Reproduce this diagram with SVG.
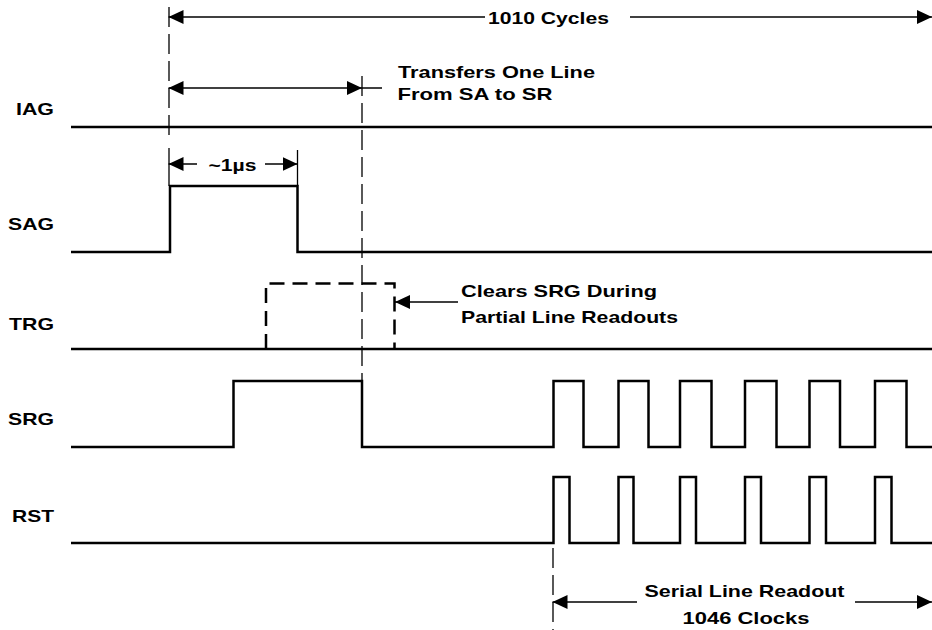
<svg xmlns="http://www.w3.org/2000/svg" width="932" height="630" viewBox="0 0 932 630">
<style>
.sig{fill:none;stroke:#000;stroke-width:2.5;stroke-linejoin:miter;stroke-linecap:butt}
.dpulse{fill:none;stroke:#000;stroke-width:2.5;stroke-dasharray:15 8}
.guide{fill:none;stroke:#000;stroke-width:1.3;stroke-dasharray:20 7}
.ext{fill:none;stroke:#000;stroke-width:1.3}
.arr{fill:none;stroke:#000;stroke-width:1.5}
text{font-family:"Liberation Sans",Arial,Helvetica,sans-serif;font-weight:bold;font-size:17px;fill:#000}
.lbl{text-anchor:end}
.mid{text-anchor:middle}
</style>
<defs>
<marker id="ah" viewBox="0 0 15 14" refX="15" refY="7" markerWidth="15" markerHeight="14" markerUnits="userSpaceOnUse" orient="auto-start-reverse">
<path d="M0,0 L15,7 L0,14 z" fill="#000"/>
</marker>
</defs>

<g id="IAG">
<text class="lbl" x="54" y="114.5" textLength="38" lengthAdjust="spacingAndGlyphs">IAG</text>
<path class="sig" d="M71,127 H932"/>
</g>

<g id="SAG">
<text class="lbl" x="54" y="229.5" textLength="46" lengthAdjust="spacingAndGlyphs">SAG</text>
<path class="sig" d="M71,252 H170 V186 H297.5 V252 H932"/>
</g>

<g id="TRG">
<text class="lbl" x="54" y="330" textLength="45" lengthAdjust="spacingAndGlyphs">TRG</text>
<path class="sig" d="M71,349 H932"/>
<path class="dpulse" d="M266,349 V283.5 H394.5 V349"/>
</g>

<g id="SRG">
<text class="lbl" x="54" y="425" textLength="46" lengthAdjust="spacingAndGlyphs">SRG</text>
<path class="sig" d="M71,447 H233.5 V381 H362 V447 H553.5 V381 H583.5 V447 H618.5 V381 H648.5 V447 H680 V381 H711.5 V447 H745 V381 H776.5 V447 H809.5 V381 H840 V447 H875 V381 H906.5 V447 H932"/>
</g>

<g id="RST">
<text class="lbl" x="54" y="521.5" textLength="42" lengthAdjust="spacingAndGlyphs">RST</text>
<path class="sig" d="M71,543 H553.5 V477 H569.5 V543 H618.5 V477 H633.5 V543 H680 V477 H696 V543 H745 V477 H761 V543 H809.5 V477 H826 V543 H875 V477 H891.5 V543 H932"/>
</g>

<g id="annotations">
<text class="mid" x="548.5" y="24" textLength="121" lengthAdjust="spacingAndGlyphs">1010 Cycles</text>
<text x="398" y="77.5" textLength="197" lengthAdjust="spacingAndGlyphs">Transfers One Line</text>
<text x="397.5" y="99.5" textLength="155" lengthAdjust="spacingAndGlyphs">From SA to SR</text>
<text class="mid" x="232.5" y="171" textLength="48" lengthAdjust="spacingAndGlyphs">~1µs</text>
<text x="461" y="297" textLength="196" lengthAdjust="spacingAndGlyphs">Clears SRG During</text>
<text x="461" y="323" textLength="217" lengthAdjust="spacingAndGlyphs">Partial Line Readouts</text>
<text class="mid" x="744.5" y="596.5" textLength="200" lengthAdjust="spacingAndGlyphs">Serial Line Readout</text>
<text class="mid" x="746" y="623.5" textLength="127" lengthAdjust="spacingAndGlyphs">1046 Clocks</text>
</g>

<g id="connectors">
<path class="guide" d="M169,7 V135"/>
<path class="ext" d="M169,148 V186"/>
<path class="ext" d="M297.5,150 V186"/>
<path class="guide" d="M362,76 V381"/>
<path class="guide" d="M553,548 V630"/>
<line class="arr" x1="485" y1="17" x2="168.5" y2="17" marker-end="url(#ah)"/>
<line class="arr" x1="630" y1="17" x2="932" y2="17" marker-end="url(#ah)"/>
<line class="arr" x1="168.5" y1="88" x2="362" y2="88" marker-start="url(#ah)" marker-end="url(#ah)"/>
<line class="arr" x1="362" y1="88" x2="382" y2="88"/>
<line class="arr" x1="197" y1="164" x2="168.5" y2="164" marker-end="url(#ah)"/>
<line class="arr" x1="265" y1="164" x2="297.5" y2="164" marker-end="url(#ah)"/>
<line class="arr" x1="458" y1="302" x2="395" y2="302" marker-end="url(#ah)"/>
<line class="arr" x1="637" y1="602" x2="552.5" y2="602" marker-end="url(#ah)"/>
<line class="arr" x1="855" y1="602" x2="932" y2="602" marker-end="url(#ah)"/>
</g>
</svg>
